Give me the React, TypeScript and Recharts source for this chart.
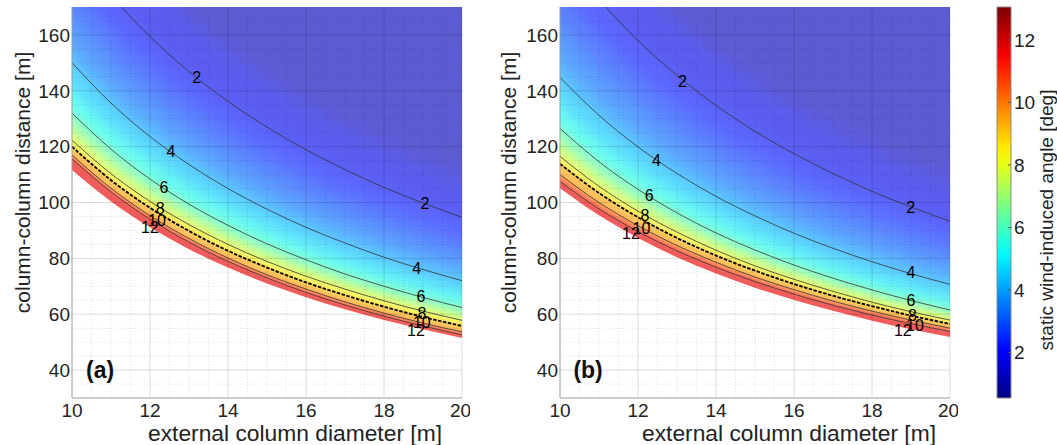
import {
  Area,
  ComposedChart,
  Line,
  ReferenceArea,
  ReferenceLine,
  Scatter,
  XAxis,
  YAxis,
} from "recharts";

// external column diameter [m] where the contours were read
const diameters = [10, 11, 12, 13, 14, 15, 16, 17, 18, 19, 20];

// panel (a): column-column distance [m] along each angle contour
const aC15 = [217, 197.3, 180.8, 166.9, 155.0, 144.7, 135.6, 127.6, 120.6, 114.2, 108.5];
const aC2 = [192, 174.2, 159.4, 146.9, 136.2, 127.0, 118.9, 111.8, 105.4, 99.8, 94.7];
const aC25 = [179, 162.3, 148.4, 136.6, 126.6, 117.9, 110.3, 103.6, 97.7, 92.4, 87.7];
const aC3 = [168, 152.2, 139.0, 127.9, 118.4, 110.2, 103.0, 96.8, 91.2, 86.2, 81.7];
const aC35 = [158, 143.0, 130.5, 120.0, 111.0, 103.2, 96.5, 90.5, 85.2, 80.5, 76.3];
const aC4 = [150, 135.6, 123.6, 113.6, 105.0, 97.6, 91.1, 85.5, 80.4, 76.0, 72.0];
const aC5 = [140, 126.4, 115.2, 105.7, 97.7, 90.7, 84.7, 79.4, 74.6, 70.4, 66.7];
const aC6 = [132, 119.1, 108.4, 99.4, 91.8, 85.2, 79.5, 74.4, 70.0, 66.0, 62.4];
const aC7 = [126.8, 114.4, 104.1, 95.5, 88.2, 81.8, 76.3, 71.5, 67.2, 63.4, 60.0];
const aC8 = [122.3, 110.3, 100.4, 92.1, 85.0, 78.9, 73.6, 69.0, 64.8, 61.1, 57.8];
const aLimit = [120, 108.0, 98.1, 89.8, 82.7, 76.7, 71.4, 66.8, 62.7, 59.0, 55.8];
const aC10 = [117, 105.1, 95.3, 87.1, 80.1, 74.1, 69.0, 64.4, 60.4, 56.8, 53.7];
const aC11 = [116.3, 104.4, 94.7, 86.5, 79.5, 73.5, 68.4, 63.8, 59.9, 56.3, 53.1];
const aC12 = [115.6, 103.8, 94.0, 85.8, 78.9, 73.0, 67.8, 63.3, 59.3, 55.8, 52.6];
const aEdge = [111.6, 100.4, 91.1, 83.3, 76.7, 71.0, 66.1, 61.8, 57.9, 54.6, 51.5];

// panel (b)
const bC15 = [215, 195.5, 179.2, 165.4, 153.6, 143.3, 134.4, 126.5, 119.4, 113.2, 107.5];
const bC2 = [190.6, 172.8, 158.0, 145.5, 134.8, 125.5, 117.5, 110.4, 104.0, 98.4, 93.3];
const bC25 = [176.5, 160.0, 146.3, 134.7, 124.8, 116.2, 108.8, 102.2, 96.4, 91.1, 86.4];
const bC3 = [164.5, 149.1, 136.2, 125.4, 116.1, 108.1, 101.1, 95.0, 89.5, 84.7, 80.3];
const bC35 = [153.5, 139.1, 127.1, 117.0, 108.4, 100.9, 94.4, 88.6, 83.6, 79.0, 74.9];
const bC4 = [144.8, 131.2, 119.9, 110.4, 102.2, 95.2, 89.0, 83.6, 78.8, 74.5, 70.7];
const bC5 = [134.5, 121.8, 111.3, 102.4, 94.8, 88.2, 82.5, 77.5, 73.0, 69.0, 65.4];
const bC6 = [126.5, 114.6, 104.7, 96.3, 89.1, 83.0, 77.6, 72.9, 68.7, 64.9, 61.5];
const bC7 = [121, 109.8, 100.5, 92.6, 85.8, 80.0, 74.9, 70.4, 66.4, 62.9, 59.7];
const bC8 = [116.5, 105.8, 96.9, 89.4, 82.9, 77.3, 72.5, 68.2, 64.3, 60.9, 57.9];
const bLimit = [113.8, 103.4, 94.7, 87.3, 81.0, 75.6, 70.8, 66.6, 62.9, 59.5, 56.5];
const bC10 = [110, 100.0, 91.7, 84.6, 78.6, 73.3, 68.8, 64.7, 61.1, 57.9, 55.0];
const bC11 = [108.7, 98.8, 90.6, 83.6, 77.6, 72.5, 67.9, 63.9, 60.4, 57.2, 54.4];
const bC12 = [107.5, 97.7, 89.6, 82.7, 76.8, 71.7, 67.2, 63.2, 59.7, 56.6, 53.8];
const bEdge = [105.1, 95.4, 87.3, 80.4, 74.6, 69.5, 65.1, 61.2, 57.7, 54.6, 51.8];

type ContourLabel = { d: number; y: number; t: string };

const aLabels: ContourLabel[] = [
  { d: 13.2, y: 144.9, t: "2" },
  { d: 19.05, y: 99.5, t: "2" },
  { d: 12.54, y: 118.1, t: "4" },
  { d: 18.84, y: 76.4, t: "4" },
  { d: 12.36, y: 105.2, t: "6" },
  { d: 18.95, y: 66.2, t: "6" },
  { d: 12.26, y: 98.0, t: "8" },
  { d: 18.97, y: 60.4, t: "8" },
  { d: 12.18, y: 93.7, t: "10" },
  { d: 18.97, y: 56.9, t: "10" },
  { d: 12.0, y: 91.2, t: "12" },
  { d: 18.82, y: 54.3, t: "12" },
];

const bLabels: ContourLabel[] = [
  { d: 13.14, y: 143.5, t: "2" },
  { d: 18.99, y: 98.3, t: "2" },
  { d: 12.47, y: 115.2, t: "4" },
  { d: 19.0, y: 75.0, t: "4" },
  { d: 12.29, y: 102.4, t: "6" },
  { d: 19.0, y: 64.8, t: "6" },
  { d: 12.18, y: 95.2, t: "8" },
  { d: 19.04, y: 59.7, t: "8" },
  { d: 12.09, y: 90.8, t: "10" },
  { d: 19.1, y: 56.1, t: "10" },
  { d: 11.82, y: 89.0, t: "12" },
  { d: 18.79, y: 54.3, t: "12" },
];

const xDomain = [10, 20];
const yDomain = [30, 170];
const majorX = [10, 12, 14, 16, 18, 20];
const minorX = [10.5, 11, 11.5, 12.5, 13, 13.5, 14.5, 15, 15.5, 16.5, 17, 17.5, 18.5, 19, 19.5];
const majorY = [40, 60, 80, 100, 120, 140, 160];
const minorY = [35, 45, 50, 55, 65, 70, 75, 85, 90, 95, 105, 110, 115, 125, 130, 135, 145, 150, 155, 165];

const colorbarDomain = [0.55, 13.05];
const colorbarTicks = [2, 4, 6, 8, 10, 12];

// each band is filled below its upper contour, painted top to bottom, softened vertically
const bandKeys = ["top", "c15", "c2", "c25", "c3", "c35", "c4", "c5", "c6", "c7", "c8", "lim", "c10", "c11", "c12"];
const bandLevels = [1.2, 1.75, 2.25, 2.75, 3.25, 3.75, 4.5, 5.5, 6.5, 7.5, 8.5, 9.5, 10.3, 11.0, 11.7];
const bandSoftness = [0, 11, 10, 10, 9, 9, 9, 8, 6, 4, 3, 2, 1.5, 1.5, 1.5];
const lineKeys = ["c2", "c4", "c6", "c8", "c10", "c12"];

const FONT = '"Liberation Sans", Arial, Helvetica, sans-serif';
const FIELD_ALPHA = 0.64;

function jet(level: number): [number, number, number] {
  const f = (level - 0.5) / 12.5;
  const c = (v: number) => Math.max(0, Math.min(1, v));
  return [c(1.5 - Math.abs(4 * f - 3)), c(1.5 - Math.abs(4 * f - 2)), c(1.5 - Math.abs(4 * f - 1))];
}

function jetCss(level: number, alpha = 1): string {
  const m = (v: number) => Math.round(255 * (1 - alpha) + 255 * v * alpha);
  const [r, g, b] = jet(level);
  return `rgb(${m(r)},${m(g)},${m(b)})`;
}

type Row = Record<string, number>;

function buildRows(curves: Record<string, number[]>): Row[] {
  return diameters.map((d, i) => {
    const row: Row = { d };
    for (const key of Object.keys(curves)) row[key] = curves[key][i];
    return row;
  });
}

const rowsA = buildRows({
  c15: aC15, c2: aC2, c25: aC25, c3: aC3, c35: aC35, c4: aC4, c5: aC5, c6: aC6,
  c7: aC7, c8: aC8, lim: aLimit, c10: aC10, c11: aC11, c12: aC12, edge: aEdge,
});
const rowsB = buildRows({
  c15: bC15, c2: bC2, c25: bC25, c3: bC3, c35: bC35, c4: bC4, c5: bC5, c6: bC6,
  c7: bC7, c8: bC8, lim: bLimit, c10: bC10, c11: bC11, c12: bC12, edge: bEdge,
});

// fill limits just outside the plot so that softened edges are clipped away
const fillFloor = yDomain[0] - 25;
const fillCeil = yDomain[1] + 40;

function rotatedTitle(text: string, dx: number, dy: number, size: number) {
  return (props: any) => {
    const vb = props.viewBox;
    const x = vb.x + dx;
    const y = vb.y + vb.height / 2 + dy;
    return (
      <text
        x={x}
        y={y}
        transform={`rotate(-90 ${x} ${y})`}
        textAnchor="middle"
        dominantBaseline="central"
        fontSize={size}
        fill="#222"
        fontFamily={FONT}
      >
        {text}
      </text>
    );
  };
}

function bottomTitle(text: string, dx: number, dy: number) {
  return (props: any) => {
    const vb = props.viewBox;
    return (
      <text
        x={vb.x + vb.width / 2 + dx}
        y={vb.y + dy}
        textAnchor="middle"
        dominantBaseline="central"
        fontSize={22.8}
        fill="#222"
        fontFamily={FONT}
      >
        {text}
      </text>
    );
  };
}

function LabelText(props: any) {
  const { cx, cy, payload } = props;
  if (cx == null || cy == null) return null;
  return (
    <text x={cx} y={cy} textAnchor="middle" dominantBaseline="central" fontSize={16} fill="#000" fontFamily={FONT}>
      {payload.t}
    </text>
  );
}

function TagText(props: any) {
  const { cx, cy, payload } = props;
  if (cx == null || cy == null) return null;
  return (
    <text x={cx} y={cy} textAnchor="middle" dominantBaseline="central" fontSize={23} fontWeight="bold" fill="#111" fontFamily={FONT}>
      {payload.t}
    </text>
  );
}

type PanelProps = {
  id: string;
  rows: Row[];
  labels: ContourLabel[];
  tag: string;
  titleShift: number;
  yTitleX: number;
};

function Panel({ id, rows, labels, tag, titleShift, yTitleX }: PanelProps) {
  const tick = { fontSize: 19, fill: "#222", fontFamily: FONT };
  return (
    <ComposedChart width={470} height={445} data={rows} margin={{ top: 7, right: 8, bottom: 2, left: 12 }}>
      <defs>
        {bandSoftness.map((s, i) => (
          <filter key={i} id={`${id}-soft${i}`} x="-5%" y="-60%" width="110%" height="220%">
            <feGaussianBlur stdDeviation={`0 ${s}`} />
          </filter>
        ))}
      </defs>
      <XAxis
        dataKey="d"
        type="number"
        domain={xDomain}
        ticks={majorX}
        allowDataOverflow
        tick={tick}
        tickLine={false}
        tickSize={0}
        tickMargin={6}
        height={45}
        axisLine={{ stroke: "#9a9a9a" }}
        label={{ content: bottomTitle("external column diameter [m]", titleShift, 35) }}
      />
      <YAxis
        type="number"
        domain={yDomain}
        ticks={majorY}
        allowDataOverflow
        tick={tick}
        tickLine={false}
        tickSize={0}
        tickMargin={2}
        width={60}
        axisLine={{ stroke: "#9a9a9a" }}
        label={{ content: rotatedTitle("column-column distance [m]", yTitleX, -20, 21) }}
      />
      {bandKeys.map((key, i) => (
        <Area
          key={key}
          type="monotone"
          dataKey={(r: Row) => [fillFloor, key === "top" ? fillCeil : r[key]]}
          fill={jetCss(bandLevels[i], FIELD_ALPHA)}
          fillOpacity={1}
          stroke="none"
          filter={bandSoftness[i] > 0 ? `url(#${id}-soft${i})` : undefined}
          dot={false}
          activeDot={false}
          isAnimationActive={false}
        />
      ))}
      <Area
        type="monotone"
        dataKey={(r: Row) => [fillFloor, r.edge]}
        fill="#ffffff"
        fillOpacity={1}
        stroke="none"
        dot={false}
        activeDot={false}
        isAnimationActive={false}
      />
      {minorX.map((v) => (
        <ReferenceLine key={`mx${v}`} x={v} stroke="rgba(0,0,0,0.13)" strokeDasharray="1 2" />
      ))}
      {minorY.map((v) => (
        <ReferenceLine key={`my${v}`} y={v} stroke="rgba(0,0,0,0.13)" strokeDasharray="1 2" />
      ))}
      {majorX.slice(1).map((v) => (
        <ReferenceLine key={`Mx${v}`} x={v} stroke="rgba(0,0,0,0.14)" />
      ))}
      {majorY.map((v) => (
        <ReferenceLine key={`My${v}`} y={v} stroke="rgba(0,0,0,0.14)" />
      ))}
      {lineKeys.map((key) => (
        <Line
          key={key}
          type="monotone"
          dataKey={key}
          stroke="#333"
          strokeWidth={0.8}
          dot={false}
          activeDot={false}
          isAnimationActive={false}
        />
      ))}
      <Line
        type="monotone"
        dataKey="lim"
        stroke="#0a0a0a"
        strokeWidth={1.9}
        strokeDasharray="3.5 1.5"
        dot={false}
        activeDot={false}
        isAnimationActive={false}
      />
      <Scatter data={labels} dataKey="y" shape={<LabelText />} isAnimationActive={false} />
      <Scatter data={[{ d: 10.72, y: 40, t: tag }]} dataKey="y" shape={<TagText />} isAnimationActive={false} />
    </ComposedChart>
  );
}

function Colorbar() {
  const stops = Array.from({ length: 26 }, (_, i) => i / 25);
  return (
    <ComposedChart width={67} height={445} data={[{ x: 0 }, { x: 1 }]} margin={{ top: 7, right: 0, bottom: 47, left: 7 }}>
      <defs>
        <linearGradient id="jetBar" x1="0" y1="1" x2="0" y2="0">
          {stops.map((s) => (
            <stop
              key={s}
              offset={s}
              stopColor={jetCss(colorbarDomain[0] + s * (colorbarDomain[1] - colorbarDomain[0]))}
            />
          ))}
        </linearGradient>
      </defs>
      <XAxis dataKey="x" type="number" domain={[0, 1]} hide />
      <ReferenceArea
        x1={0}
        x2={1}
        y1={colorbarDomain[0]}
        y2={colorbarDomain[1]}
        fill="url(#jetBar)"
        fillOpacity={1}
        stroke="#8a8a8a"
        strokeWidth={1}
      />
      <YAxis
        orientation="right"
        type="number"
        domain={colorbarDomain}
        ticks={colorbarTicks}
        allowDataOverflow
        tick={{ fontSize: 19, fill: "#222", fontFamily: FONT }}
        tickLine={{ stroke: "#555" }}
        tickSize={-3}
        tickMargin={6}
        axisLine={false}
        width={46}
        label={{ content: rotatedTitle("static wind-induced angle [deg]", 35.5, 17.5, 19) }}
      />
    </ComposedChart>
  );
}

export default function App() {
  return (
    <div
      style={{
        position: "absolute",
        left: 0,
        top: 0,
        width: 1057,
        height: 445,
        background: "#fff",
        fontFamily: FONT,
        overflow: "hidden",
      }}
    >
      <div style={{ position: "absolute", left: 0, top: 0 }}>
        <Panel id="pa" rows={rowsA} labels={aLabels} tag="(a)" titleShift={28} yTitleX={10} />
      </div>
      <div style={{ position: "absolute", left: 488, top: 0 }}>
        <Panel id="pb" rows={rowsB} labels={bLabels} tag="(b)" titleShift={34} yTitleX={8} />
      </div>
      <div style={{ position: "absolute", left: 990, top: 0 }}>
        <Colorbar />
      </div>
    </div>
  );
}
